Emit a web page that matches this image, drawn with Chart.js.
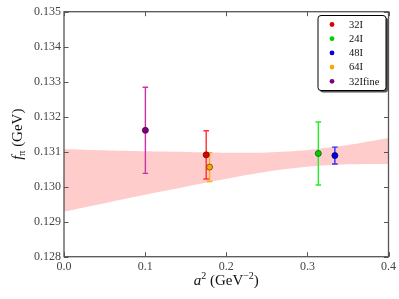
<!DOCTYPE html>
<html>
<head>
<meta charset="utf-8">
<script src="https://cdn.jsdelivr.net/npm/chart.js@4.4.1/dist/chart.umd.min.js"></script>
<style>
html,body{margin:0;padding:0;background:#fff;}
#wrap{width:399px;height:299px;}
</style>
</head>
<body>
<div id="wrap"><canvas id="c" width="399" height="299"></canvas></div>
<script>
// ---- data ----
const ensembles = ['32I', '24I', '48I', '64I', '32Ifine'];
const a2Values = [0.1753, 0.3135, 0.3339, 0.1794, 0.1003];
const fpiValues = [0.13091, 0.13095, 0.13089, 0.13056, 0.13161];
const fpiErrors = [0.00069, 0.00090, 0.00024, 0.00041, 0.00123];
const markerColors = ['#e00000', '#00d000', '#0000e0', '#ffa500', '#800080'];
const barColors = ['#ff3030', '#22ee22', '#3030ff', '#ffaa22', '#cc33aa'];
const edgeColors = ['#700000', '#006000', '#000070', '#704000', '#400040'];

const bandA2 = [0, 0.05, 0.1, 0.15, 0.2, 0.25, 0.3, 0.35, 0.4];
const bandHigh = [0.13108, 0.13104, 0.13101, 0.13099, 0.13097, 0.13098, 0.13105, 0.13119, 0.13139];
const bandLow = [0.12929, 0.12953, 0.12977, 0.13000, 0.13023, 0.13043, 0.13057, 0.13064, 0.13065];

const xTicks = [0.0, 0.1, 0.2, 0.3, 0.4];
const yTicks = [0.128, 0.129, 0.130, 0.131, 0.132, 0.133, 0.134, 0.135];

const SERIF = '"Liberation Serif", "DejaVu Serif", serif';

const pointSets = ensembles.map((name, i) => ({
  type: 'scatter',
  label: name,
  data: [{x: a2Values[i], y: fpiValues[i]}],
  backgroundColor: markerColors[i],
  borderColor: edgeColors[i],
  borderWidth: 0.8,
  pointRadius: 3,
  pointHoverRadius: 3
}));

const bandSets = [
  {
    type: 'line', label: 'bandLow',
    data: bandA2.map((x, i) => ({x, y: bandLow[i]})),
    borderWidth: 0, pointRadius: 0, fill: false, tension: 0.3
  },
  {
    type: 'line', label: 'bandHigh',
    data: bandA2.map((x, i) => ({x, y: bandHigh[i]})),
    borderWidth: 0, pointRadius: 0, fill: '-1', tension: 0.3,
    backgroundColor: 'rgba(255,0,0,0.2)'
  }
];

const errorBars = {
  id: 'errorBars',
  afterDatasetDraw(chart, args) {
    if (args.index !== 5) return;
    const ctx = chart.ctx, xs = chart.scales.x, ys = chart.scales.y;
    ctx.save();
    ensembles.forEach((n, i) => {
      const px = xs.getPixelForValue(a2Values[i]);
      const top = ys.getPixelForValue(fpiValues[i] + fpiErrors[i]);
      const bot = ys.getPixelForValue(fpiValues[i] - fpiErrors[i]);
      ctx.strokeStyle = barColors[i];
      ctx.lineWidth = 1.4;
      ctx.beginPath();
      ctx.moveTo(px, top); ctx.lineTo(px, bot);
      ctx.moveTo(px - 2.8, top); ctx.lineTo(px + 2.8, top);
      ctx.moveTo(px - 2.8, bot); ctx.lineTo(px + 2.8, bot);
      ctx.stroke();
    });
    ctx.restore();
  }
};

const frame = {
  id: 'frame',
  afterDraw(chart) {
    const ctx = chart.ctx, a = chart.chartArea, xs = chart.scales.x, ys = chart.scales.y;
    ctx.save();
    ctx.strokeStyle = '#555';
    ctx.lineWidth = 1.3;
    ctx.strokeRect(a.left, a.top, a.right - a.left, a.bottom - a.top);
    ctx.lineWidth = 1;
    ctx.beginPath();
    xTicks.forEach(v => {
      const p = Math.round(xs.getPixelForValue(v)) + 0.5;
      ctx.moveTo(p, a.bottom); ctx.lineTo(p, a.bottom - 4.5);
      ctx.moveTo(p, a.top); ctx.lineTo(p, a.top + 4.5);
    });
    yTicks.forEach(v => {
      const p = Math.round(ys.getPixelForValue(v)) + 0.5;
      ctx.moveTo(a.left, p); ctx.lineTo(a.left + 4.5, p);
      ctx.moveTo(a.right, p); ctx.lineTo(a.right - 4.5, p);
    });
    ctx.stroke();

    // axis titles
    ctx.fillStyle = '#111';
    ctx.textBaseline = 'alphabetic';
    // x title: a^2 (GeV^-2)
    const big = '15px ' + SERIF, bigI = 'italic 15px ' + SERIF, sm = '10px ' + SERIF;
    const parts = [
      {t: 'a', f: bigI, dy: 0},
      {t: '2', f: sm, dy: -6},
      {t: ' (GeV', f: big, dy: 0},
      {t: '\u22122', f: sm, dy: -6},
      {t: ')', f: big, dy: 0}
    ];
    let w = 0;
    parts.forEach(p => { ctx.font = p.f; p.w = ctx.measureText(p.t).width; w += p.w; });
    let x0 = (a.left + a.right) / 2 - w / 2;
    const by = 285;
    parts.forEach(p => { ctx.font = p.f; ctx.fillText(p.t, x0, by + p.dy); x0 += p.w; });

    // y title: f_pi (GeV)
    ctx.save();
    ctx.translate(22, (a.top + a.bottom) / 2);
    ctx.rotate(-Math.PI / 2);
    const yparts = [
      {t: 'f', f: bigI, dy: 0},
      {t: '\u03c0', f: sm, dy: 3},
      {t: ' (GeV)', f: big, dy: 0}
    ];
    w = 0;
    yparts.forEach(p => { ctx.font = p.f; p.w = ctx.measureText(p.t).width; w += p.w; });
    x0 = -w / 2;
    yparts.forEach(p => { ctx.font = p.f; ctx.fillText(p.t, x0, p.dy); x0 += p.w; });
    ctx.restore();

    // legend
    const lx = 318, ly = 15.5, lw = 68, lh = 75;
    const rr = (x, y, ww, hh, r) => {
      ctx.beginPath();
      ctx.moveTo(x + r, y); ctx.lineTo(x + ww - r, y); ctx.quadraticCurveTo(x + ww, y, x + ww, y + r);
      ctx.lineTo(x + ww, y + hh - r); ctx.quadraticCurveTo(x + ww, y + hh, x + ww - r, y + hh);
      ctx.lineTo(x + r, y + hh); ctx.quadraticCurveTo(x, y + hh, x, y + hh - r);
      ctx.lineTo(x, y + r); ctx.quadraticCurveTo(x, y, x + r, y); ctx.closePath();
    };
    ctx.fillStyle = '#555';
    rr(lx + 2, ly + 2, lw, lh, 3); ctx.fill();
    ctx.fillStyle = '#fff';
    rr(lx, ly, lw, lh, 3); ctx.fill();
    ctx.strokeStyle = '#000'; ctx.lineWidth = 1;
    rr(lx, ly, lw, lh, 3); ctx.stroke();
    ctx.font = '10.5px ' + SERIF;
    ctx.textBaseline = 'middle';
    ensembles.forEach((n, i) => {
      const yy = 24.5 + i * 14.2;
      ctx.fillStyle = markerColors[i];
      ctx.beginPath(); ctx.arc(332, yy, 2.4, 0, Math.PI * 2); ctx.fill();
      ctx.fillStyle = '#111';
      ctx.fillText(n, 349, yy + 0.5);
    });
    ctx.restore();
  }
};

new Chart(document.getElementById('c'), {
  data: { datasets: [...pointSets, ...bandSets] },
  options: {
    responsive: false,
    animation: false,
    events: [],
    layout: { padding: { top: 11.7, right: 8, left: 0, bottom: 0 } },
    plugins: { legend: { display: false }, tooltip: { enabled: false } },
    scales: {
      x: {
        type: 'linear', min: 0, max: 0.4,
        afterBuildTicks: s => { s.ticks = xTicks.map(v => ({value: v})); },
        afterFit: s => { s.height = 42.3; },
        ticks: { callback: v => Number(v).toFixed(1), padding: 3, color: '#444', font: { family: SERIF, size: 12 }, maxRotation: 0 },
        grid: { display: false, drawTicks: false },
        border: { display: false }
      },
      y: {
        type: 'linear', min: 0.128, max: 0.135,
        afterBuildTicks: s => { s.ticks = yTicks.map(v => ({value: v})); },
        afterFit: s => { s.width = 64; },
        ticks: { callback: v => Number(v).toFixed(3), padding: 3, color: '#444', font: { family: SERIF, size: 12 } },
        grid: { display: false, drawTicks: false },
        border: { display: false }
      }
    }
  },
  plugins: [errorBars, frame]
});
</script>
</body>
</html>
